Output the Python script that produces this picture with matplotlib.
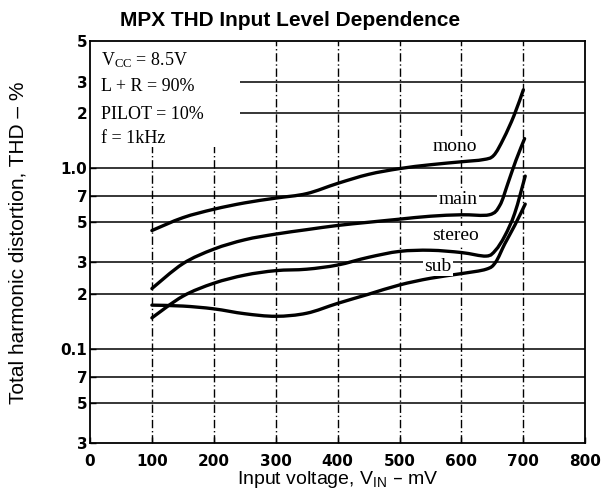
import numpy as np
import matplotlib
matplotlib.use("Agg")
import matplotlib.pyplot as plt
from matplotlib.patches import Rectangle, PathPatch
from matplotlib.path import Path

# (mV, THD %)
mono_x = [100, 150, 200, 250, 300, 350, 400, 450, 500, 550, 600, 635, 652, 668, 685, 700]
mono_y = [0.45, 0.53, 0.59, 0.64, 0.68, 0.72, 0.82, 0.92, 0.99, 1.04, 1.08, 1.11, 1.17, 1.45, 1.95, 2.7]

main_x = [100, 150, 200, 250, 300, 350, 400, 450, 500, 550, 600, 645, 662, 675, 688, 702]
main_y = [0.215, 0.295, 0.355, 0.40, 0.43, 0.455, 0.48, 0.50, 0.52, 0.54, 0.55, 0.55, 0.62, 0.82, 1.1, 1.45]

stereo_x = [100, 150, 200, 250, 300, 350, 400, 450, 500, 550, 600, 640, 655, 670, 686, 703]
stereo_y = [0.148, 0.195, 0.23, 0.255, 0.27, 0.275, 0.29, 0.32, 0.345, 0.35, 0.34, 0.325, 0.35, 0.42, 0.56, 0.90]

sub_x = [100, 150, 200, 250, 300, 350, 400, 450, 500, 550, 600, 640, 655, 670, 686, 703]
sub_y = [0.174, 0.172, 0.166, 0.156, 0.151, 0.157, 0.178, 0.20, 0.225, 0.245, 0.26, 0.275, 0.30, 0.38, 0.48, 0.63]

curve_labels = ["mono", "main", "stereo", "sub"]
label_pos = [(590, 1.32), (595, 0.67), (590, 0.42), (562, 0.285)]

xticks = [0, 100, 200, 300, 400, 500, 600, 700, 800]
yticks = [5, 3, 2, 1.0, 0.7, 0.5, 0.3, 0.2, 0.1, 0.07, 0.05, 0.03]
ytick_labels = ["5", "3", "2", "1.0", "7", "5", "3", "2", "0.1", "7", "5", "3"]
hgrid = [3, 2, 1.0, 0.7, 0.5, 0.3, 0.2, 0.1, 0.07, 0.05]
vgrid = [100, 200, 300, 400, 500, 600, 700]

conditions = [r"V$\mathregular{_{CC}}$ = 8.5V", "L + R = 90%", "PILOT = 10%", "f = 1kHz"]


def smooth_path(xs, ys):
    # Catmull-Rom through the read points, as cubic beziers in (x, log y)
    p = np.column_stack([xs, np.log10(ys)])
    verts = [p[0]]
    codes = [Path.MOVETO]
    n = len(p)
    for i in range(n - 1):
        p0 = p[max(i - 1, 0)]
        p1 = p[i]
        p2 = p[i + 1]
        p3 = p[min(i + 2, n - 1)]
        c1 = p1 + (p2 - p0) / 6.0
        c2 = p2 - (p3 - p1) / 6.0
        verts += [c1, c2, p2]
        codes += [Path.CURVE4] * 3
    verts = np.array(verts)
    verts[:, 1] = 10 ** verts[:, 1]
    return Path(verts, codes)


sans = ["Liberation Sans", "DejaVu Sans"]
serif = ["Liberation Serif", "DejaVu Serif"]

fig = plt.figure(figsize=(6.04, 4.93), dpi=100)
ax = fig.add_axes([0.149, 0.101, 0.820, 0.815])
ax.set_yscale("log")
ax.set_xlim(0, 800)
ax.set_ylim(0.03, 5)

# grid
for v in hgrid:
    ax.axhline(v, color="black", lw=1.1, zorder=1)
for v in vgrid:
    ax.axvline(v, color="black", lw=1.0, ls=(0, (6, 2, 1, 2)), zorder=1)

# white area behind the condition text
ax.add_patch(Rectangle((0, 1.3), 243, 3.7, facecolor="white", edgecolor="none", zorder=2))

ys_cond = [3.95, 2.8, 1.98, 1.45]
for t, yy in zip(conditions, ys_cond):
    ax.text(18, yy, t, fontsize=13, family=serif, va="center", ha="left", zorder=3)

for xs, ys in [(mono_x, mono_y), (main_x, main_y), (stereo_x, stereo_y), (sub_x, sub_y)]:
    ax.add_patch(PathPatch(smooth_path(xs, ys), facecolor="none", edgecolor="black",
                           lw=2.4, capstyle="round", zorder=4))

for name, (lx, ly) in zip(curve_labels, label_pos):
    ax.text(lx, ly, name, fontsize=14, family=serif, ha="center", va="center", zorder=5,
            bbox=dict(facecolor="white", edgecolor="none", pad=1))

ax.set_xticks(xticks)
ax.set_xticklabels([str(v) for v in xticks], fontsize=11, fontweight="bold")
ax.set_yticks(yticks)
ax.set_yticklabels(ytick_labels, fontsize=11, fontweight="bold")
ax.yaxis.set_minor_locator(matplotlib.ticker.NullLocator())
ax.tick_params(axis="x", direction="in", length=4, width=1, pad=8)
ax.tick_params(axis="y", direction="in", length=4, width=1, pad=2)
for s in ax.spines.values():
    s.set_linewidth(1.3)

ax.set_xlabel(r"Input voltage, V$\mathregular{_{IN}}$ – mV", fontsize=14, family=sans, labelpad=0)
ax.set_ylabel("Total harmonic distortion, THD – %", fontsize=15, family=sans, labelpad=24)
fig.text(0.48, 0.958, "MPX THD Input Level Dependence", fontsize=15, fontweight="bold",
         family=sans, ha="center", va="center")

fig.savefig("out.png", dpi=100)
